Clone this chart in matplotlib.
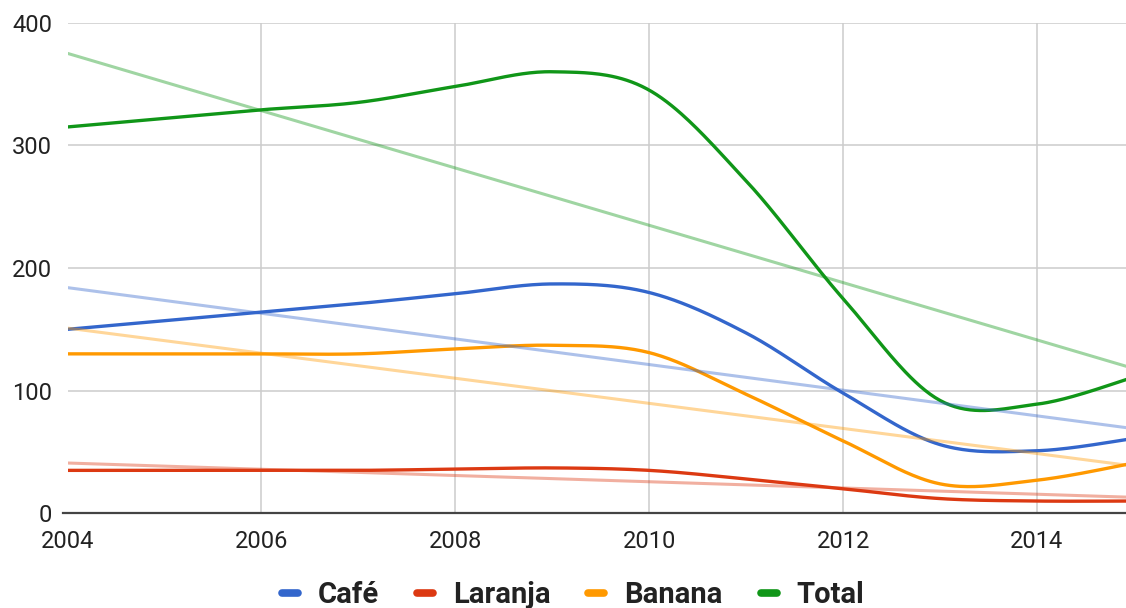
import numpy as np
import matplotlib
matplotlib.use("Agg")
import matplotlib.pyplot as plt
from matplotlib.lines import Line2D

plt.rcParams['font.family'] = ['Roboto', 'DejaVu Sans']

# ---- data -------------------------------------------------------------
years = [2004, 2005, 2006, 2007, 2008, 2009, 2010, 2011, 2012, 2013, 2014, 2015]
cafe = [150, 157, 164, 171, 179, 187, 180, 147, 98, 56, 51, 61]
laranja = [35, 35, 35, 35, 36, 37, 35, 28, 20, 12, 10, 10]
banana = [130, 130, 130, 130, 134, 137, 131, 97, 59, 24, 27, 41]
total = [315, 322, 329, 335, 348, 360, 345, 271, 175, 92, 89, 111]

series_names = ['Café', 'Laranja', 'Banana', 'Total']
series_values = [cafe, laranja, banana, total]
series_colors = ['#3366cc', '#dc3912', '#ff9900', '#109618']

# linear trend lines: value at first and last year
trend_years = [2004, 2015]
trend_cafe = [184, 69]
trend_laranja = [41, 13]
trend_banana = [151, 38.5]
trend_total = [375, 118]
trend_values = [trend_cafe, trend_laranja, trend_banana, trend_total]

x_ticks = [2004, 2006, 2008, 2010, 2012, 2014]
y_ticks = [0, 100, 200, 300, 400]


def smooth(xs, ys, n=40):
    """Catmull-Rom style cubic Bezier through every point."""
    xs = np.asarray(xs, float)
    ys = np.asarray(ys, float)
    pts = np.column_stack([xs, ys])
    out = []
    m = len(pts)
    t = np.linspace(0, 1, n)[:, None]
    for i in range(m - 1):
        p0 = pts[i - 1] if i > 0 else pts[i]
        p1 = pts[i]
        p2 = pts[i + 1]
        p3 = pts[i + 2] if i + 2 < m else pts[i + 1]
        c1 = p1 + (p2 - p0) / 6.0
        c2 = p2 - (p3 - p1) / 6.0
        seg = ((1 - t) ** 3) * p1 + 3 * ((1 - t) ** 2) * t * c1 \
            + 3 * (1 - t) * t ** 2 * c2 + t ** 3 * p2
        out.append(seg if i == 0 else seg[1:])
    seg = np.vstack(out)
    return seg[:, 0], seg[:, 1]


W, H = 1126, 608
fig = plt.figure(figsize=(W / 100, H / 100), dpi=100)
left_px, right_px, top_px, bottom_px = 67.5, 1126, 22.7, 513.3
ax = fig.add_axes([left_px / W, 1 - bottom_px / H,
                   (right_px - left_px) / W, (bottom_px - top_px) / H])

px_per_year = 96.95
ax.set_xlim(2004, 2004 + (right_px - left_px) / px_per_year)
ax.set_ylim(0, 400)

for s in ax.spines.values():
    s.set_visible(False)

ax.set_xticks(x_ticks)
ax.set_yticks(y_ticks)
ax.set_xticklabels([str(v) for v in x_ticks])
ax.set_yticklabels([str(v) for v in y_ticks])
ax.tick_params(axis='both', length=0, labelsize=17, labelcolor='#222222')
ax.tick_params(axis='x', pad=12)
ax.tick_params(axis='y', pad=11)

ax.grid(True, color='#cccccc', linewidth=1.1, zorder=0)
ax.set_axisbelow(True)
# baseline reaches a few pixels left of the first gridline
base_left = -4.5 / (right_px - left_px)
ax.axhline(0, xmin=base_left, xmax=1, color='#444444', linewidth=1.6,
           zorder=1, clip_on=False)

for vals, col in zip(series_values, series_colors):
    sx, sy = smooth(years, vals)
    ax.plot(sx, sy, color=col, linewidth=2.4, solid_capstyle='butt', zorder=3)

for tv, col in zip(trend_values, series_colors):
    ax.plot(trend_years, tv, color=col, linewidth=2.2, alpha=0.4, zorder=4,
            solid_capstyle='butt')

handles = [Line2D([0], [0], color=c, linewidth=5.5, solid_capstyle='round')
           for c in series_colors]
fig.legend(handles, series_names, loc='center',
           bbox_to_anchor=(573 / W, 1 - 595 / H), ncol=4, frameon=False,
           handlelength=0.55, handletextpad=0.68, columnspacing=1.3,
           prop={'size': 21, 'weight': 'bold'}, labelcolor='#222222')

fig.savefig('out.png', dpi=100)
